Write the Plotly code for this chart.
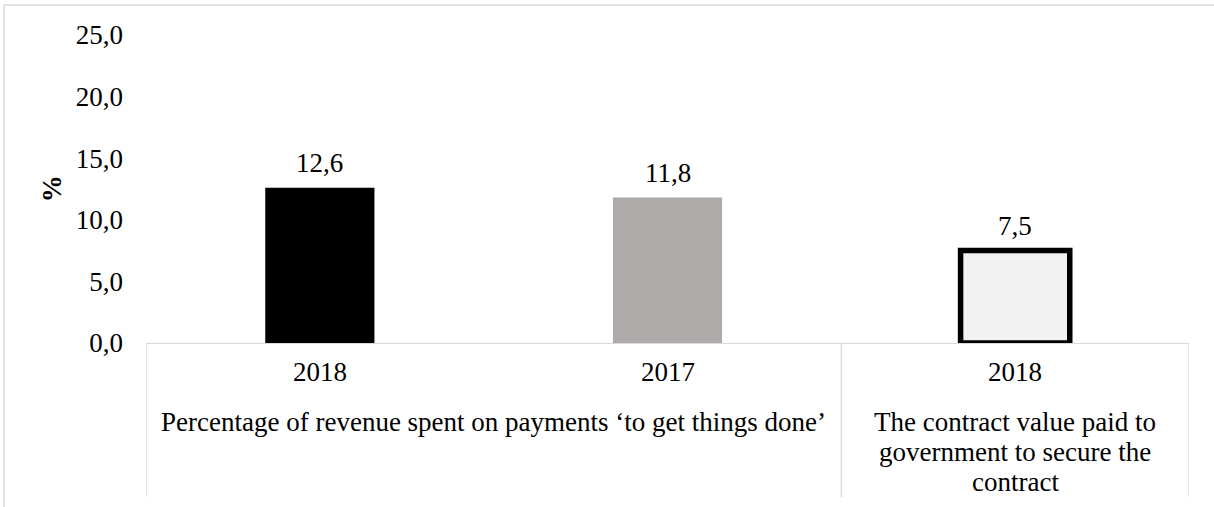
import plotly.graph_objects as go

# ---- data ----
years = ["2018", "2017", "2018"]
values = [12.6, 11.8, 7.5]
group_label_lines = [
    ["Percentage of revenue spent on payments ‘to get things done’"],
    ["The contract value paid to", "government to secure the", "contract"],
]
group_spans = [(0, 1), (2, 2)]
bar_colors = ["#000000", "#AEAAAA", "#F2F2F2"]
bar_line_widths = [0, 0, 5.5]
y_ticks = [0, 5, 10, 15, 20, 25]

FONT = "Liberation Serif"
FS = 27
GRID = "#D9D9D9"
LINE_H = 30

x_pos = list(range(len(values)))

fig = go.Figure()
fig.add_trace(go.Bar(
    x=x_pos, y=values, width=0.314,
    marker=dict(color=bar_colors, line=dict(color="#000000", width=bar_line_widths)),
    hoverinfo="skip", showlegend=False,
))

annotations = []
# value labels
for x, v in zip(x_pos, values):
    annotations.append(dict(
        x=x, y=v, xref="x", yref="y", text=f"{v:.1f}".replace(".", ","),
        showarrow=False, yanchor="bottom", yshift=8,
        font=dict(family=FONT, size=FS, color="#000000"),
    ))
# year labels
for x, yr in zip(x_pos, years):
    annotations.append(dict(
        x=x, y=0, xref="x", yref="paper", text=yr, showarrow=False,
        yanchor="middle", yshift=-29,
        font=dict(family=FONT, size=FS, color="#000000"),
    ))
# group labels (one annotation per line)
for (a, b), lines in zip(group_spans, group_label_lines):
    for i, line in enumerate(lines):
        annotations.append(dict(
            x=(a + b) / 2, y=0, xref="x", yref="paper", text=line, showarrow=False,
            yanchor="middle", yshift=-79 - i * LINE_H,
            font=dict(family=FONT, size=FS, color="#000000"),
        ))
# y axis title
annotations.append(dict(
    x=-0.090, y=0.5, xref="paper", yref="paper", text="<b>%</b>", showarrow=False,
    textangle=-90, xanchor="center", yanchor="middle",
    font=dict(family=FONT, size=FS, color="#000000"),
))

shapes = []
# category dividers
for xv in [-0.5, 1.5, 2.5]:
    shapes.append(dict(type="line", xref="x", yref="paper", x0=xv, x1=xv,
                       y0=0, y1=-0.5, line=dict(color=GRID, width=1.3)))
# chart area border (left + top)
shapes.append(dict(type="line", xref="paper", yref="paper", x0=-0.1361, x1=-0.1361,
                   y0=1.0974, y1=-0.6, line=dict(color=GRID, width=1.5)))
shapes.append(dict(type="line", xref="paper", yref="paper", x0=-0.1361, x1=1.1,
                   y0=1.0974, y1=1.0974, line=dict(color=GRID, width=1.5)))

fig.update_layout(
    width=1214, height=507,
    margin=dict(l=146, r=25, t=35, b=164),
    paper_bgcolor="white", plot_bgcolor="white",
    separators=",.",
    font=dict(family=FONT, size=FS, color="#000000"),
    annotations=annotations, shapes=shapes,
    xaxis=dict(range=[-0.5, 2.5], showticklabels=False, showgrid=False, zeroline=False,
               showline=True, linecolor=GRID, linewidth=1.3, ticks=""),
    yaxis=dict(range=[0, 25], tickvals=y_ticks, tickformat=".1f", showgrid=False,
               zeroline=False, showline=False, ticks="", ticklabelstandoff=22,
               tickfont=dict(family=FONT, size=FS, color="#000000")),
)

fig.write_html("out.html")
